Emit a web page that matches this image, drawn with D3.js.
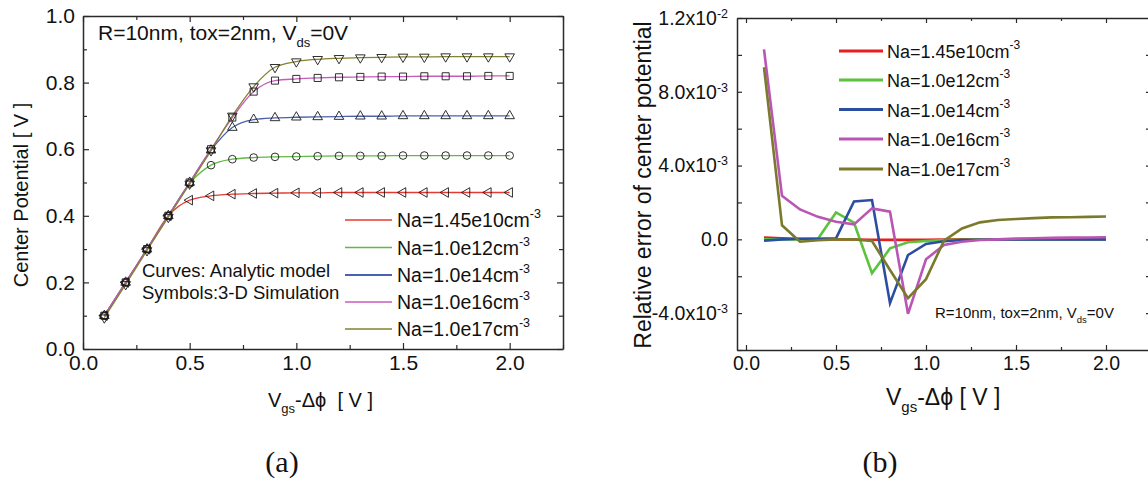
<!DOCTYPE html>
<html><head><meta charset="utf-8">
<script src="https://cdn.jsdelivr.net/npm/d3@7"></script>
<style>
body{margin:0;background:#fff}
svg{display:block}
text{font-family:"Liberation Sans",Arial,Helvetica,sans-serif;fill:#111;white-space:pre}
.axis path,.axis line{stroke:#2a2a2a}
</style>
</head><body><svg id="c" width="1148" height="481"></svg>
<script>
// ---------------- data ----------------
const vgs = [0.1,0.2,0.3,0.4,0.5,0.6,0.7,0.8,0.9,1.0,1.1,1.2,1.3,1.4,1.5,1.6,1.7,1.8,1.9,2.0];
const seriesLabels = ["Na=1.45e10cm","Na=1.0e12cm","Na=1.0e14cm","Na=1.0e16cm","Na=1.0e17cm"];
const seriesColorsA = ["#e53a32","#62b846","#4a62ad","#c75cbb","#858130"];
const seriesColorsB = ["#e41f1f","#5cc23f","#2c4ea0","#b955b2","#7b7a2c"];
const seriesSymbols = ["left","circle","up","square","down"];

// (a) center potential [V]
const pot1e10 = [0.10,0.20,0.30,0.40,0.447,0.460,0.465,0.467,0.468,0.469,0.469,0.470,0.470,0.470,0.470,0.470,0.470,0.470,0.470,0.470];
const pot1e12 = [0.10,0.20,0.30,0.40,0.497,0.552,0.570,0.575,0.577,0.578,0.579,0.580,0.580,0.580,0.581,0.581,0.581,0.581,0.581,0.581];
const pot1e14 = [0.10,0.20,0.30,0.40,0.500,0.597,0.665,0.689,0.694,0.696,0.697,0.698,0.699,0.699,0.700,0.700,0.700,0.700,0.700,0.700];
const pot1e16 = [0.10,0.20,0.30,0.40,0.500,0.600,0.695,0.773,0.806,0.811,0.814,0.816,0.817,0.818,0.818,0.819,0.819,0.819,0.820,0.820];
const pot1e17 = [0.094,0.194,0.296,0.396,0.496,0.596,0.700,0.788,0.846,0.863,0.870,0.873,0.875,0.876,0.877,0.877,0.878,0.878,0.878,0.878];

// (b) relative error of center potential
const err1e10 = [0.09e-3,0.05e-3,0.02e-3,0.01e-3,0.0,-0.01e-3,-0.02e-3,-0.03e-3,-0.03e-3,-0.02e-3,-0.01e-3,0,0,0,0,0,0,0,0,0];
const err1e12 = [0.0,0.0,0.0,0.03e-3,1.46e-3,0.90e-3,-1.84e-3,-0.49e-3,-0.16e-3,-0.09e-3,-0.04e-3,-0.02e-3,-0.01e-3,0,0,0,0,0,0,0];
const err1e14 = [-0.07e-3,0.0,0.03e-3,0.03e-3,0.05e-3,2.05e-3,2.13e-3,-3.46e-3,-0.85e-3,-0.25e-3,-0.10e-3,-0.04e-3,-0.02e-3,-0.01e-3,-0.01e-3,0,0,0,0,0];
const err1e16 = [10.3e-3,2.36e-3,1.62e-3,1.22e-3,0.95e-3,0.81e-3,1.68e-3,1.50e-3,-4.04e-3,-1.08e-3,-0.31e-3,-0.13e-3,-0.04e-3,0.0,0.04e-3,0.06e-3,0.08e-3,0.09e-3,0.10e-3,0.11e-3];
const err1e17 = [9.33e-3,0.76e-3,-0.13e-3,-0.05e-3,0.0,0.0,-0.09e-3,-1.66e-3,-3.19e-3,-2.16e-3,-0.07e-3,0.59e-3,0.92e-3,1.05e-3,1.10e-3,1.15e-3,1.19e-3,1.20e-3,1.22e-3,1.24e-3];

// tick labels
const xTicksA = [0,0.5,1.0,1.5,2.0];
const yTicksA = [0,0.2,0.4,0.6,0.8,1.0];
const xTicksB = [0,0.5,1.0,1.5,2.0];
const yTicksB = [-4e-3,0,4e-3,8e-3,1.2e-2];
const yTickMant = ["-4.0x10","0.0","4.0x10","8.0x10","1.2x10"];
const yTickExp  = ["-3","","-3","-3","-2"];

const potSeries = [pot1e10,pot1e12,pot1e14,pot1e16,pot1e17];
const errSeries = [err1e10,err1e12,err1e14,err1e16,err1e17];

// ---------------- drawing ----------------
const svg = d3.select("#c");
const fmt1 = d3.format(".1f");

function frameAxes(g, x, y, opt){
  const [x0,x1] = x.range(), [y0,y1] = y.range();
  g.append("g").attr("class","axis").attr("transform",`translate(0,${y0})`)
    .call(d3.axisBottom(x).tickValues(opt.xMajor).tickSize(-opt.maj).tickSizeOuter(0).tickPadding(opt.xPad).tickFormat(fmt1))
    .call(s=>s.selectAll("text").attr("font-size",opt.fs).attr("fill","#111"));
  g.append("g").attr("class","axis").attr("transform",`translate(0,${y0})`)
    .call(d3.axisBottom(x).tickValues(opt.xMinor).tickSize(-opt.min).tickSizeOuter(0).tickFormat(""))
    .call(s=>s.select(".domain").remove());
  g.append("g").attr("class","axis").attr("transform",`translate(0,${y1})`)
    .call(d3.axisTop(x).tickValues(opt.xMajor).tickSize(-opt.maj).tickSizeOuter(0).tickFormat(""));
  g.append("g").attr("class","axis").attr("transform",`translate(0,${y1})`)
    .call(d3.axisTop(x).tickValues(opt.xMinor).tickSize(-opt.min).tickSizeOuter(0).tickFormat(""))
    .call(s=>s.select(".domain").remove());
  const la = g.append("g").attr("class","axis").attr("transform",`translate(${x0},0)`)
    .call(d3.axisLeft(y).tickValues(opt.yMajor).tickSize(-opt.maj).tickSizeOuter(0).tickPadding(opt.yPad).tickFormat(opt.yFmt||fmt1));
  la.selectAll("text").attr("font-size",opt.fs).attr("fill","#111");
  g.append("g").attr("class","axis").attr("transform",`translate(${x0},0)`)
    .call(d3.axisLeft(y).tickValues(opt.yMinor).tickSize(-opt.min).tickSizeOuter(0).tickFormat(""))
    .call(s=>s.select(".domain").remove());
  g.append("g").attr("class","axis").attr("transform",`translate(${x1},0)`)
    .call(d3.axisRight(y).tickValues(opt.yMajor).tickSize(-opt.maj).tickSizeOuter(0).tickFormat(""));
  g.append("g").attr("class","axis").attr("transform",`translate(${x1},0)`)
    .call(d3.axisRight(y).tickValues(opt.yRightMinor||opt.yMinor).tickSize(-opt.min).tickSizeOuter(0).tickFormat(""))
    .call(s=>s.select(".domain").remove());
  g.selectAll(".axis .domain").attr("stroke-width",1.5);
  g.selectAll(".axis line").attr("stroke-width",1.2);
  return la;
}

// ===== panel (a) =====
const xA = d3.scaleLinear().domain([0,2.25]).range([83,563]);
const yA = d3.scaleLinear().domain([0,1]).range([349,16]);
const gA = svg.append("g");

frameAxes(gA, xA, yA, {
  xMajor:xTicksA, xMinor:[0.25,0.75,1.25,1.75,2.25],
  yMajor:yTicksA, yMinor:[0.1,0.3,0.5,0.7,0.9],
  maj:6, min:4, fs:21, xPad:6, yPad:8
});

const lineA = d3.line().x((d,i)=>xA(vgs[i])).y(d=>yA(d)).curve(d3.curveMonotoneX);
potSeries.forEach((s,k)=>{
  gA.append("path").datum(s).attr("d",lineA).attr("fill","none")
    .attr("stroke",seriesColorsA[k]).attr("stroke-width",1.3);
});
function symPath(kind){
  if(kind==="circle") return d3.symbol(d3.symbolCircle,46)();
  if(kind==="square") return d3.symbol(d3.symbolSquare,50)();
  return d3.symbol(d3.symbolTriangle,40)();
}
function symRot(kind){
  return kind==="down"?180:kind==="left"?-90:0;
}
potSeries.forEach((s,k)=>{
  const kind = seriesSymbols[k];
  gA.append("g").selectAll("path").data(s).join("path")
    .attr("d",symPath(kind))
    .attr("transform",(d,i)=>`translate(${xA(vgs[i])},${yA(d)}) rotate(${symRot(kind)})`)
    .attr("fill","none").attr("stroke","#1a1a1a").attr("stroke-width",0.9);
});

// title
const tA = gA.append("text").attr("x",98).attr("y",40).attr("font-size",21);
tA.append("tspan").text("R=10nm, tox=2nm, V");
tA.append("tspan").attr("dy",7).attr("font-size",13).text("ds");
tA.append("tspan").attr("dy",-7).text("=0V");

// note
gA.append("text").attr("x",142).attr("y",277).attr("font-size",18.5).text("Curves: Analytic model");
gA.append("text").attr("x",142).attr("y",299).attr("font-size",18.5).text("Symbols:3-D Simulation");

// legend
const legAy = [220,247.5,275,302,329];
seriesLabels.forEach((lab,k)=>{
  gA.append("line").attr("x1",345).attr("x2",392).attr("y1",legAy[k]).attr("y2",legAy[k])
    .attr("stroke",seriesColorsA[k]).attr("stroke-width",k===2?2:1.4);
  const t = gA.append("text").attr("x",397).attr("y",legAy[k]+7).attr("font-size",19.5);
  t.append("tspan").text(lab);
  t.append("tspan").attr("dy",-9).attr("font-size",12.5).text("-3");
});

// axis titles
const xlA = gA.append("text").attr("x",268).attr("y",407).attr("font-size",20);
xlA.append("tspan").text("V");
xlA.append("tspan").attr("dy",6).attr("font-size",13).text("gs");
xlA.append("tspan").attr("dy",-6).text("-Δϕ  [ V ]");
gA.append("text").attr("transform","translate(28,195) rotate(-90)").attr("text-anchor","middle")
  .attr("font-size",20).text("Center Potential [ V ]");

// caption
svg.append("text").attr("x",282).attr("y",472).attr("text-anchor","middle")
  .style("font-family","'Liberation Serif','DejaVu Serif',serif")
  .attr("font-size",30).text("(a)");

// ===== panel (b) =====
const xB = d3.scaleLinear().domain([-0.05,2.25]).range([737,1151]);
const yB = d3.scaleLinear().domain([-6e-3,1.2e-2]).range([350,18]);
const gB = svg.append("g");

const laB = frameAxes(gB, xB, yB, {
  xMajor:xTicksB, xMinor:[0.25,0.75,1.25,1.75,2.25],
  yMajor:[-6e-3,-2e-3,2e-3,6e-3,1e-2].concat(yTicksB), yMinor:[],
  yRightMinor:[-5e-3,-3e-3,-1e-3,1e-3,3e-3,5e-3,7e-3,9e-3,1.1e-2],
  maj:5, min:3, fs:19.5, xPad:6, yPad:9,
  yFmt:(d)=>{const i=yTicksB.findIndex(v=>Math.abs(v-d)<1e-9); return i<0?"":yTickMant[i];}
});
laB.selectAll(".tick text").each(function(d){
  const i = yTicksB.findIndex(v=>Math.abs(v-d)<1e-9);
  if(i>=0 && yTickExp[i]){
    d3.select(this).append("tspan").attr("dy","-0.55em").attr("font-size",12.5).text(yTickExp[i]);
  }
});

const lineB = d3.line().x((d,i)=>xB(vgs[i])).y(d=>yB(d));
errSeries.forEach((s,k)=>{
  gB.append("path").datum(s).attr("d",lineB).attr("fill","none")
    .attr("stroke",seriesColorsB[k]).attr("stroke-width",2.6).attr("stroke-linejoin","miter");
});

// legend
const legBy = [51,80,109.5,139,169];
seriesLabels.forEach((lab,k)=>{
  gB.append("line").attr("x1",839).attr("x2",883).attr("y1",legBy[k]).attr("y2",legBy[k])
    .attr("stroke",seriesColorsB[k]).attr("stroke-width",3);
  const t = gB.append("text").attr("x",887).attr("y",legBy[k]+7).attr("font-size",18);
  t.append("tspan").text(lab);
  t.append("tspan").attr("dy",-9).attr("font-size",12).text("-3");
});

// annotation
const tB = gB.append("text").attr("x",935).attr("y",318).attr("font-size",15);
tB.append("tspan").text("R=10nm, tox=2nm, V");
tB.append("tspan").attr("dy",5).attr("font-size",9.5).text("ds");
tB.append("tspan").attr("dy",-5).text("=0V");

// axis titles
const xlB = gB.append("text").attr("x",886).attr("y",405).attr("font-size",23);
xlB.append("tspan").text("V");
xlB.append("tspan").attr("dy",7).attr("font-size",15).text("gs");
xlB.append("tspan").attr("dy",-7).text("-Δϕ [ V ]");
gB.append("text").attr("transform","translate(651,185) rotate(-90)").attr("text-anchor","middle")
  .attr("font-size",23).text("Relative error of center potential");

svg.append("text").attr("x",880).attr("y",472).attr("text-anchor","middle")
  .style("font-family","'Liberation Serif','DejaVu Serif',serif")
  .attr("font-size",30).text("(b)");
</script>
</body></html>
